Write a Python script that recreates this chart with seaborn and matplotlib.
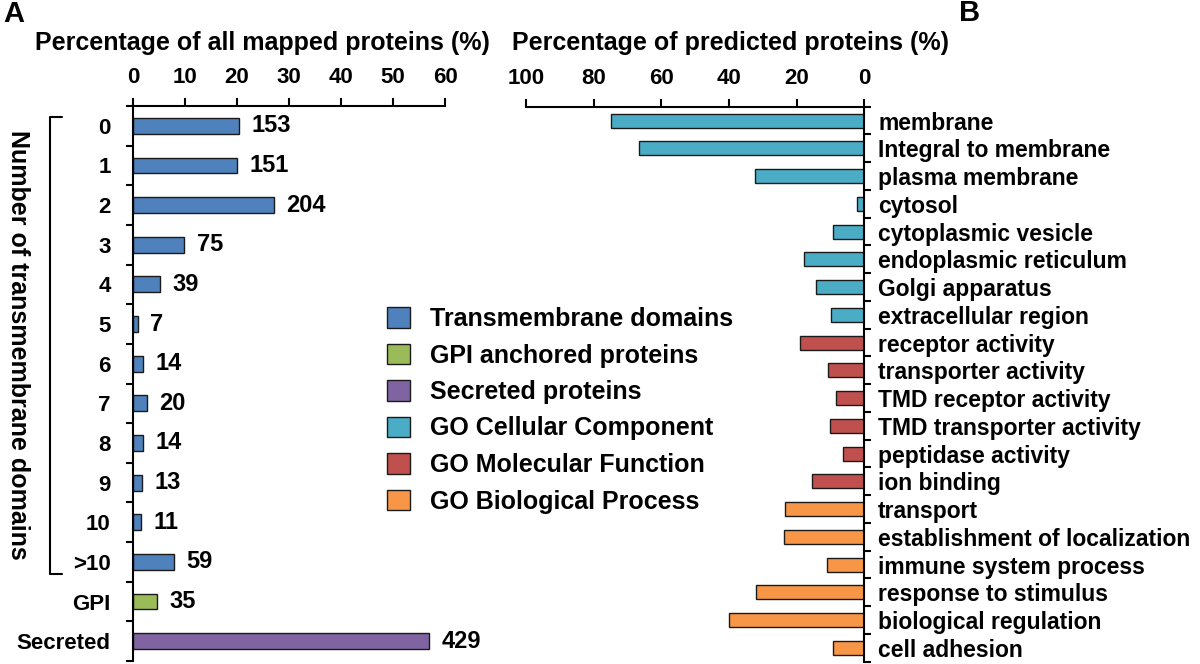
import numpy as np
import pandas as pd
import matplotlib
matplotlib.use("Agg")
import matplotlib.pyplot as plt
import seaborn as sns
from matplotlib.patches import Patch
from matplotlib.lines import Line2D

# ---------------- data ----------------
tm_categories = ["0", "1", "2", "3", "4", "5", "6", "7", "8", "9", "10", ">10", "GPI", "Secreted"]
tm_percent = [20.3, 20.0, 27.1, 9.9, 5.2, 0.9, 1.9, 2.7, 1.9, 1.7, 1.5, 7.8, 4.6, 56.9]
tm_counts = [153, 151, 204, 75, 39, 7, 14, 20, 14, 13, 11, 59, 35, 429]
tm_groups = ["Transmembrane domains"] * 12 + ["GPI anchored proteins", "Secreted proteins"]

go_terms = ["membrane", "Integral to membrane", "plasma membrane", "cytosol",
            "cytoplasmic vesicle", "endoplasmic reticulum", "Golgi apparatus",
            "extracellular region", "receptor activity", "transporter activity",
            "TMD receptor activity", "TMD transporter activity", "peptidase activity",
            "ion binding", "transport", "establishment of localization",
            "immune system process", "response to stimulus", "biological regulation",
            "cell adhesion"]
go_percent = [74.9, 66.7, 32.3, 2.1, 9.2, 17.7, 14.3, 9.9, 19.0, 10.8, 8.4, 10.1,
              6.2, 15.6, 23.4, 23.7, 10.9, 32.0, 40.0, 9.2]
go_groups = (["GO Cellular Component"] * 8 + ["GO Molecular Function"] * 6 +
             ["GO Biological Process"] * 6)

legend_labels = ["Transmembrane domains", "GPI anchored proteins", "Secreted proteins",
                 "GO Cellular Component", "GO Molecular Function", "GO Biological Process"]
legend_colors = ["#4F81BD", "#9BBB59", "#8064A2", "#4BACC6", "#C0504D", "#F79646"]
palette = dict(zip(legend_labels, legend_colors))

# ---------------- style ----------------
sns.set_theme(style="white")
plt.rcParams["font.family"] = ["Liberation Sans", "DejaVu Sans"]
plt.rcParams["font.weight"] = "bold"
plt.rcParams["axes.labelweight"] = "bold"
plt.rcParams["text.color"] = "black"
plt.rcParams["axes.labelcolor"] = "black"
plt.rcParams["xtick.color"] = "black"
plt.rcParams["ytick.color"] = "black"
FS_TITLE = 18
FS_TICK = 16
FS_CAT = 16
FS_TERM = 16.5
FS_VAL = 17
FS_LEG = 18

W, H = 1200, 664
fig = plt.figure(figsize=(W / 100, H / 100), dpi=100, facecolor="white")

def fx(px):
    return px / W

def fy(py):
    return 1 - py / H

EDGE = "#1a1a1a"

# ---------------- left panel ----------------
dfL = pd.DataFrame({"category": tm_categories, "percent": tm_percent,
                    "count": tm_counts, "group": tm_groups})
axL = fig.add_axes([fx(133), fy(661), fx(445) - fx(133), fy(106) - fy(661)])
hue_L = ["Transmembrane domains", "GPI anchored proteins", "Secreted proteins"]
sns.barplot(data=dfL, x="percent", y="category", hue="group", hue_order=hue_L,
            palette=palette, saturation=1, dodge=False, width=0.4, edgecolor=EDGE,
            linewidth=1.0, orient="h", ax=axL, legend=False)
axL.set_xlim(0, 60)
axL.set_ylim(13.5, -0.5)
axL.xaxis.tick_top()
axL.set_xticks(range(0, 61, 10))
axL.set_xlabel("")
axL.set_ylabel("")
for s in ["bottom", "right"]:
    axL.spines[s].set_visible(False)
for s in ["top", "left"]:
    axL.spines[s].set_color("black")
    axL.spines[s].set_linewidth(1.5)
axL.tick_params(axis="x", which="major", direction="out", length=6, width=1.5,
                pad=7, labelsize=FS_TICK, colors="black", top=True, bottom=False)
axL.set_yticks(range(len(tm_categories)))
axL.set_yticklabels(tm_categories)
axL.set_yticks(np.arange(-0.5, len(tm_categories), 1), minor=True)
axL.tick_params(axis="y", which="major", length=0, pad=16, labelsize=FS_CAT, colors="black")
axL.tick_params(axis="y", which="minor", direction="out", length=5, width=1.5,
                colors="black", left=True)
for cont, grp in zip(axL.containers, hue_L):
    labels = [str(c) for c in dfL.loc[dfL["group"] == grp, "count"]]
    axL.bar_label(cont, labels=labels, padding=9, fontsize=FS_VAL, fontweight="bold",
                  color="black")

# ---------------- right panel ----------------
dfR = pd.DataFrame({"term": go_terms, "percent": go_percent, "group": go_groups})
axR = fig.add_axes([fx(526), fy(661.7), fx(864.3) - fx(526), fy(106.7) - fy(661.7)])
hue_R = ["GO Cellular Component", "GO Molecular Function", "GO Biological Process"]
sns.barplot(data=dfR, x="percent", y="term", hue="group", hue_order=hue_R,
            palette=palette, saturation=1, dodge=False, width=0.5, edgecolor=EDGE,
            linewidth=1.0, orient="h", ax=axR, legend=False)
axR.set_xlim(100, 0)
axR.set_ylim(19.5, -0.5)
axR.xaxis.tick_top()
axR.yaxis.tick_right()
axR.set_xticks(range(0, 101, 20))
axR.set_xlabel("")
axR.set_ylabel("")
for s in ["bottom", "left"]:
    axR.spines[s].set_visible(False)
for s in ["top", "right"]:
    axR.spines[s].set_color("black")
    axR.spines[s].set_linewidth(1.5)
axR.tick_params(axis="x", which="major", direction="out", length=6, width=1.5,
                pad=7, labelsize=FS_TICK, colors="black", top=True, bottom=False)
axR.set_yticks(range(len(go_terms)))
axR.set_yticklabels(go_terms)
axR.set_yticks(np.arange(-0.5, len(go_terms), 1), minor=True)
axR.tick_params(axis="y", which="major", length=0, pad=10, labelsize=FS_TERM, colors="black",
                right=True, left=False, labelright=True, labelleft=False)
axR.tick_params(axis="y", which="minor", direction="out", length=5, width=1.5,
                colors="black", right=True, left=False)

# ---------------- annotations ----------------
fig.text(fx(262), fy(43), "Percentage of all mapped proteins (%)", ha="center",
         va="center", fontsize=FS_TITLE, fontweight="bold", color="black")
fig.text(fx(731), fy(43), "Percentage of predicted proteins (%)", ha="center",
         va="center", fontsize=FS_TITLE, fontweight="bold", color="black")
fig.text(fx(3), fy(14), "A", ha="left", va="center", fontsize=21, fontweight="bold",
         color="black")
fig.text(fx(959), fy(13), "B", ha="left", va="center", fontsize=21, fontweight="bold",
         color="black")
fig.text(fx(18), fy(345), "Number of transmembrane domains", rotation=-90,
         ha="center", va="center", fontsize=FS_TITLE, fontweight="bold", color="black")
fig.add_artist(Line2D([fx(62), fx(49.5), fx(49.5), fx(62)],
                      [fy(117), fy(117), fy(574), fy(574)],
                      color="black", lw=1.5, transform=fig.transFigure))

handles = [Patch(facecolor=c, edgecolor=EDGE, linewidth=1.0, label=l)
           for l, c in zip(legend_labels, legend_colors)]
leg = fig.legend(handles=handles, loc="upper left", bbox_to_anchor=(fx(387), fy(307)),
                 frameon=False, handlelength=0.9, handleheight=0.9,
                 labelspacing=0.5, handletextpad=0.8, borderpad=0, borderaxespad=0,
                 prop={"weight": "bold", "size": FS_LEG}, labelcolor="black")

fig.savefig("out.png", dpi=100, facecolor="white")
